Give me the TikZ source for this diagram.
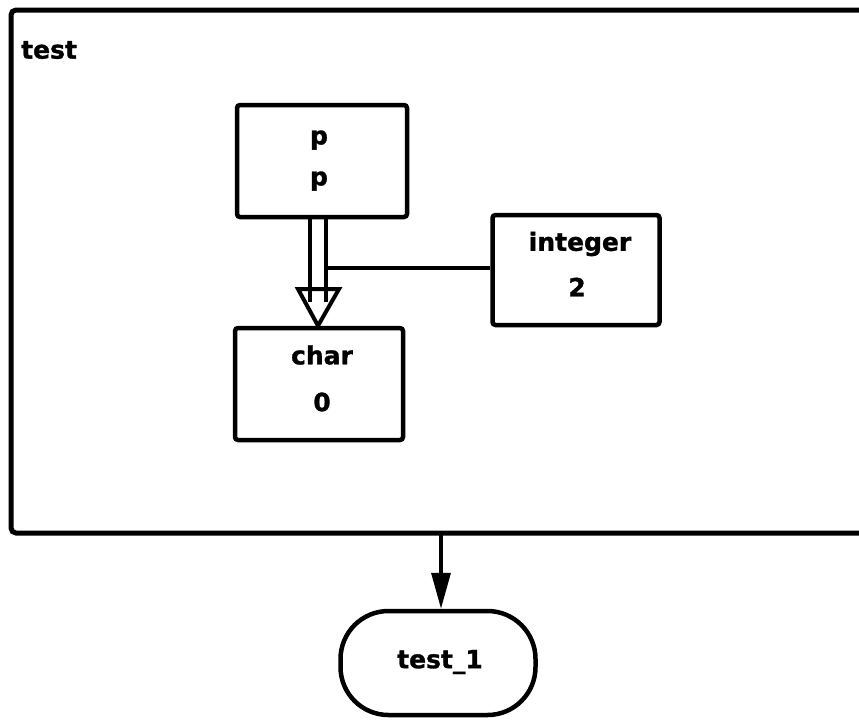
\documentclass[tikz,border=0pt]{standalone}
\usepackage{fontspec}
\setmainfont{DejaVu Sans}
\newfontfamily\labelfont[FakeBold=1.2]{DejaVu Sans Bold}
\usetikzlibrary{arrows.meta}
\tikzset{
  x=1pt, y=-1pt,
  lbl/.style={font=\fontsize{25}{30}\labelfont\selectfont, inner sep=0pt},
  typebox/.style={draw, line width=4.5pt, rounded corners=3pt, inner sep=0pt},
  wire/.style={line width=4pt},
}
\begin{document}
\begin{tikzpicture}
  \useasboundingbox (0,0) rectangle (859,721);
  \fill[white] (0,0) rectangle (859,721);

  % enclosing scope frame, open to the right
  \draw[wire, line width=5pt, rounded corners=5pt] (859,10) -- (11,10) -- (11,533) -- (859,533);
  \node[lbl, anchor=west] (scopename) at (21,50) {test};
  \coordinate (framebot) at (441,533);

  % variable and type boxes
  \node[typebox, minimum width=170pt, minimum height=112pt] (pbox) at (322,161) {};
  \node[lbl] (pname) at (319,140) {p};
  \node[lbl] (ptype) at (319,181) {p};

  \node[typebox, minimum width=167pt, minimum height=110pt] (intbox) at (576,270) {};
  \node[lbl] (intname) at (580,244) {integer};
  \node[lbl] (intval) at (577,287) {2};

  \node[typebox, minimum width=168pt, minimum height=112pt] (charbox) at (319,384) {};
  \node[lbl] (charname) at (322,355) {char};
  \node[lbl] (charval) at (322,402) {0};

  % double-line pointer arrow from p to char
  \coordinate (shaftL) at (310,217);
  \coordinate (shaftR) at (326,217);
  \draw[wire] (shaftL) -- (310,300);
  \draw[wire] (shaftR) -- (326,300);
  \draw[wire, line join=miter, fill=white] (298,289) -- (339,289) -- (charbox.north -| 318,0) -- cycle;
  \draw[wire] (310,289) -- (310,302);
  \draw[wire] (326,289) -- (326,302);

  % link from the pointer to the integer box
  \draw[wire] (326,268) -- (intbox.west |- 0,268);

  % terminal node below the frame
  \node[draw, line width=4.5pt, minimum width=195pt, minimum height=104pt,
        rounded corners=48pt, inner sep=0pt] (term) at (438,663) {};
  \node[lbl] (termname) at (440,662) {test\_1};
  \draw[wire, line width=3.5pt, -{Triangle[length=36pt, width=19pt]}] (framebot) -- (term.north -| framebot);
\end{tikzpicture}
\end{document}
